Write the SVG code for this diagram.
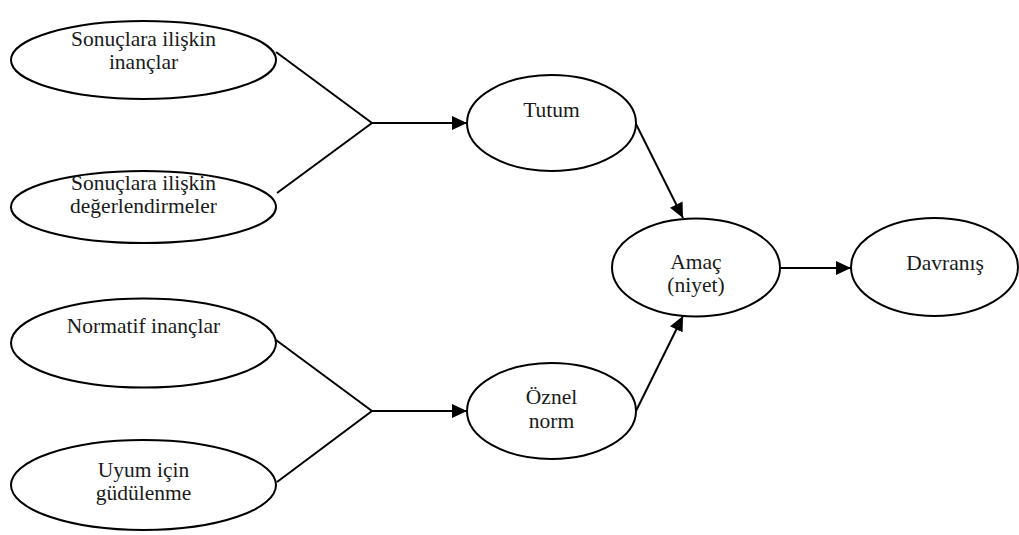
<svg xmlns="http://www.w3.org/2000/svg" width="1019" height="535" viewBox="0 0 1019 535">
<style>
.n{fill:#fff;stroke:#000;stroke-width:2}
.t{font-family:"Liberation Serif","Times New Roman",serif;font-size:21.5px;fill:#1a1a1a;text-anchor:middle}
.c{stroke:#000;stroke-width:2;fill:none}
</style>
<defs>
<marker id="ah" markerUnits="userSpaceOnUse" markerWidth="16" markerHeight="15" refX="15" refY="7" orient="auto">
<path d="M0,0 L15,7 L0,14 z" fill="#000"/>
</marker>
</defs>
<g id="connectors">
<line class="c" x1="276" y1="52" x2="372" y2="123"/>
<line class="c" x1="277" y1="193" x2="372" y2="123"/>
<line class="c" x1="372" y1="123" x2="467" y2="123" marker-end="url(#ah)"/>
<line class="c" x1="276" y1="340" x2="372" y2="411"/>
<line class="c" x1="277" y1="482" x2="372" y2="411"/>
<line class="c" x1="372" y1="411" x2="467" y2="411" marker-end="url(#ah)"/>
<line class="c" x1="636" y1="124" x2="683" y2="218" marker-end="url(#ah)"/>
<line class="c" x1="636" y1="411" x2="683" y2="316" marker-end="url(#ah)"/>
<line class="c" x1="780" y1="268" x2="851" y2="268" marker-end="url(#ah)"/>
</g>
<g id="n1"><ellipse class="n" cx="143.5" cy="60" rx="132.5" ry="39"/><text class="t" x="143.5" y="46">Sonuçlara ilişkin</text><text class="t" x="143.5" y="69">inançlar</text></g>
<g id="n2"><ellipse class="n" cx="143.5" cy="207" rx="132.5" ry="36"/><text class="t" x="143.5" y="190">Sonuçlara ilişkin</text><text class="t" x="143.5" y="213">değerlendirmeler</text></g>
<g id="n3"><ellipse class="n" cx="143.5" cy="343" rx="132.5" ry="44.5"/><text class="t" x="143.5" y="333">Normatif inançlar</text></g>
<g id="n4"><ellipse class="n" cx="143.5" cy="485" rx="132.5" ry="45"/><text class="t" x="143.5" y="477">Uyum için</text><text class="t" x="143.5" y="500">güdülenme</text></g>
<g id="tutum"><ellipse class="n" cx="551.5" cy="123" rx="84.5" ry="48"/><text class="t" x="551.5" y="117">Tutum</text></g>
<g id="oznel"><ellipse class="n" cx="551.5" cy="411" rx="84.5" ry="48"/><text class="t" x="551.5" y="404">Öznel</text><text class="t" x="551.5" y="428">norm</text></g>
<g id="amac"><ellipse class="n" cx="696" cy="267.5" rx="84" ry="49"/><text class="t" x="696" y="269">Amaç</text><text class="t" x="696" y="292">(niyet)</text></g>
<g id="davranis"><ellipse class="n" cx="934.5" cy="267" rx="83.5" ry="49"/><text class="t" x="945" y="270">Davranış</text></g>
</svg>
